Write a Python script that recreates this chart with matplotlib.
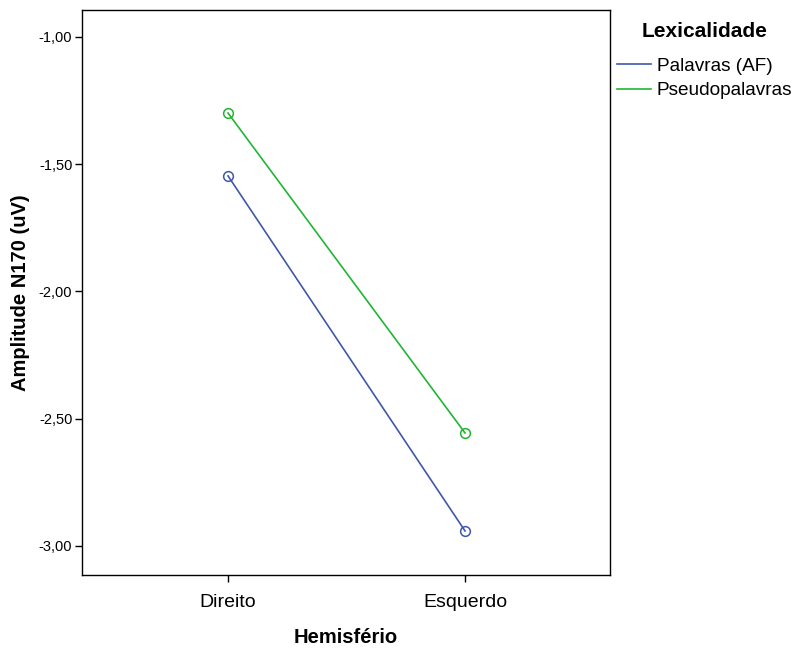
import matplotlib
matplotlib.use('Agg')
import matplotlib.pyplot as plt

plt.rcParams['font.family'] = ['Liberation Sans', 'DejaVu Sans']

# data
hemisferio = ['Direito', 'Esquerdo']
palavras = [-1.546, -2.941]
pseudopalavras = [-1.299, -2.556]
yticks = [-1.0, -1.5, -2.0, -2.5, -3.0]
ytick_labels = ['-1,00', '-1,50', '-2,00', '-2,50', '-3,00']

fig = plt.figure(figsize=(7.98, 6.48), dpi=100)
ax = fig.add_axes([0.1028, 0.1127, 0.6617, 0.8719])

x = list(range(len(hemisferio)))
ax.plot(x, palavras, color='#3e58ac', lw=1.2, marker='o', ms=7,
        mfc='none', mec='#3e58ac', mew=1.1, label='Palavras (AF)')
ax.plot(x, pseudopalavras, color='#21b534', lw=1.2, marker='o', ms=7,
        mfc='none', mec='#21b534', mew=1.1, label='Pseudopalavras')

ax.set_xlim(-0.616, 1.612)
ax.set_ylim(-3.114, -0.894)
ax.set_xticks(x)
ax.set_xticklabels(hemisferio, fontsize=14)
ax.set_yticks(yticks)
ax.set_yticklabels(ytick_labels, fontsize=10.5)
ax.tick_params(direction='out', length=5, width=1)
ax.tick_params(axis='x', pad=9)
ax.tick_params(axis='y', pad=2)
for s in ax.spines.values():
    s.set_linewidth(1)

ax.set_xlabel('Hemisfério', fontsize=14.5, fontweight='bold', labelpad=12)
ax.set_ylabel('Amplitude N170 (uV)', fontsize=14.5, fontweight='bold', labelpad=6)

leg = ax.legend(loc='upper left', bbox_to_anchor=(0.773, 0.966),
                bbox_transform=fig.transFigure, frameon=False,
                title='Lexicalidade', fontsize=13.7, handlelength=1.8,
                handletextpad=0.3, labelspacing=0.36, borderaxespad=0,
                borderpad=0)
leg.get_title().set_fontweight('bold')
leg.get_title().set_fontsize(15)
leg._legend_box.sep = 12
for h in leg.legend_handles:
    h.set_marker('')

plt.savefig('out.png', dpi=100)
